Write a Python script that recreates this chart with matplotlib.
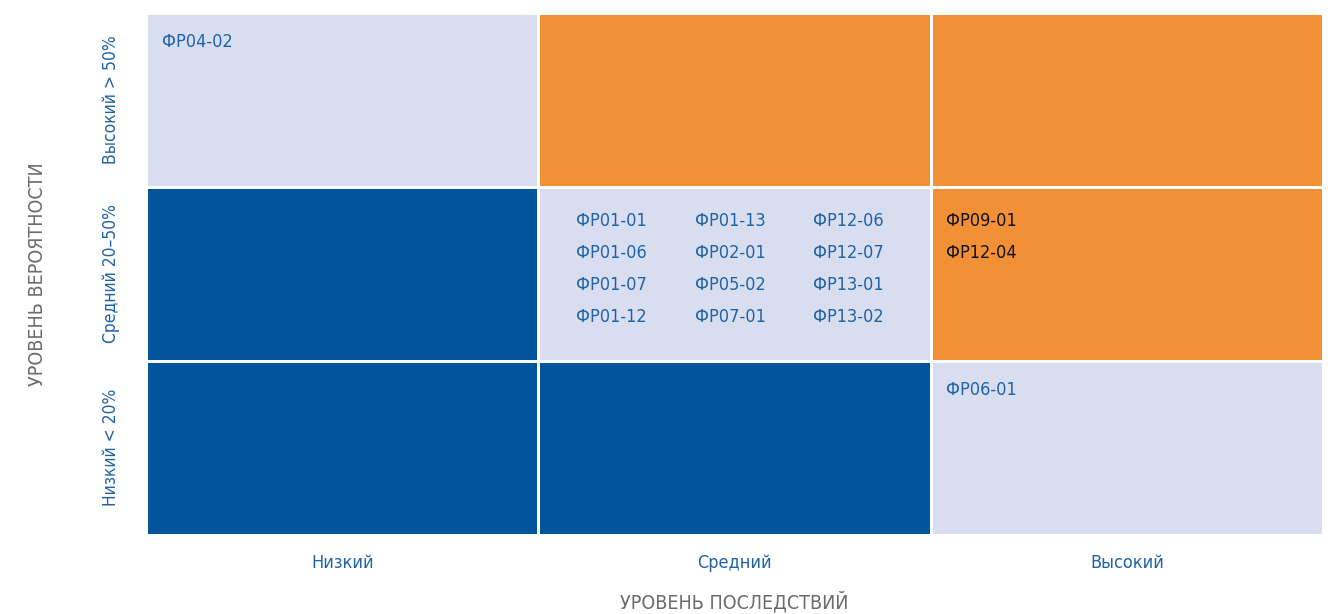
# Risk matrix: probability vs consequence

import numpy as np
import matplotlib.pyplot as plt
from matplotlib.colors import ListedColormap

plt.rcParams['font.family'] = ['DejaVu Sans']
plt.rcParams['font.stretch'] = 'condensed'

# axis categories
consequence_levels = ['Низкий', 'Средний', 'Высокий']
probability_levels = ['Низкий < 20%', 'Средний 20–50%', 'Высокий > 50%']

# cell zone per (probability row, consequence column): 0 = light, 1 = blue, 2 = orange
zones = np.array([
    [1, 1, 0],   # low probability
    [1, 0, 2],   # medium probability
    [0, 2, 2],   # high probability
])

# risk codes placed in cells: (row, col) -> list of columns of codes
risks = {
    (2, 0): [['ФР04-02']],
    (1, 1): [['ФР01-01', 'ФР01-06', 'ФР01-07', 'ФР01-12'],
             ['ФР01-13', 'ФР02-01', 'ФР05-02', 'ФР07-01'],
             ['ФР12-06', 'ФР12-07', 'ФР13-01', 'ФР13-02']],
    (1, 2): [['ФР09-01', 'ФР12-04']],
    (0, 2): [['ФР06-01']],
}

light = '#d8def0'
blue = '#02559a'
orange = '#f29038'
text_blue = '#1f62a6'
gray = '#6b6b6b'

fig = plt.figure(figsize=(13.36, 6.14), dpi=100)
ax = fig.add_axes([0.1093, 0.129, 0.881, 0.850])

cmap = ListedColormap([light, blue, orange])
ax.pcolormesh(np.arange(4), np.arange(4), zones, cmap=cmap, vmin=-0.5, vmax=2.5,
              edgecolors='white', linewidth=2)
ax.set_xlim(0, 3)
ax.set_ylim(0, 3)

# text in cells (offsets in cell units)
for (r, c), cols in risks.items():
    x0 = 0.04 if len(cols) == 1 else 0.097
    for j, col in enumerate(cols):
        for i, code in enumerate(col):
            colr = '#111111' if zones[r, c] == 2 else text_blue
            y0 = 0.833 if len(cols) == 1 and r != 1 else 0.805
            ax.text(c + x0 + j * 0.301, r + y0 - i * 0.184, code,
                    color=colr, fontsize=13, ha='left', va='center')

# ticks
ax.set_xticks(np.arange(3) + 0.5)
ax.set_xticklabels(consequence_levels, color=text_blue, fontsize=13)
ax.set_yticks(np.arange(3) + 0.5)
ax.set_yticklabels(probability_levels, color=text_blue, fontsize=12.5,
                   rotation=90, va='center')
ax.tick_params(axis='x', length=0, pad=14)
ax.tick_params(axis='y', length=0, pad=19)

for s in ax.spines.values():
    s.set_visible(False)

# axis titles
fig.text(734 / 1336, 1 - 602 / 614, 'УРОВЕНЬ ПОСЛЕДСТВИЙ', color=gray,
         fontsize=14, ha='center', va='center')
fig.text(38 / 1336, 1 - 274 / 614, 'УРОВЕНЬ ВЕРОЯТНОСТИ', color=gray,
         fontsize=14, ha='center', va='center', rotation=90)

plt.savefig('out.png', dpi=100)
